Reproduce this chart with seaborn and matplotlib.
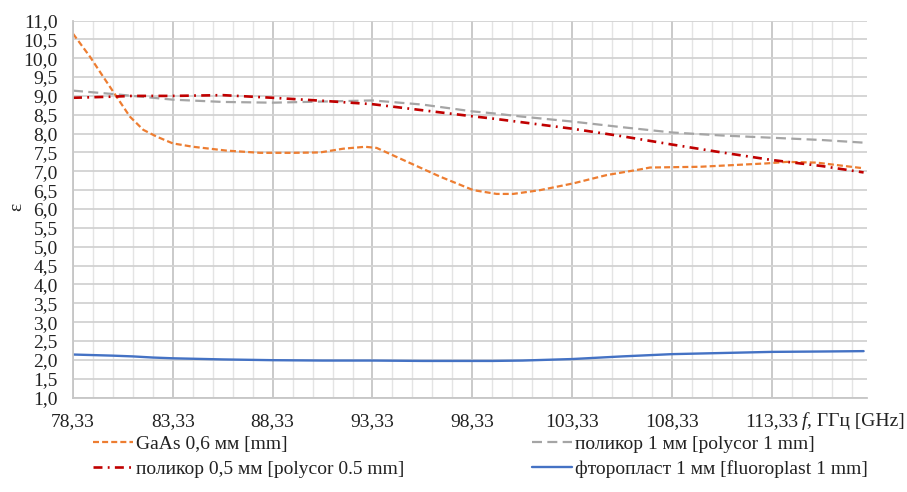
import numpy as np
import pandas as pd
import matplotlib
matplotlib.use("Agg")
import matplotlib.pyplot as plt
import seaborn as sns
from matplotlib.ticker import FixedLocator

# ---- data ----
gaas_freq = [78.33, 79.18, 79.84, 80.51, 81.18, 81.85, 82.52, 83.33, 84.35, 86.00,
             87.70, 89.36, 90.70, 91.87, 92.96, 93.54, 95.04, 96.71, 98.38, 99.55,
             100.38, 101.72, 103.39, 105.06, 106.73, 107.23, 109.73, 113.08, 114.08,
             115.58, 117.93]
gaas = [10.65, 10.04, 9.51, 8.98, 8.45, 8.10, 7.92, 7.74, 7.65, 7.55,
        7.49, 7.49, 7.50, 7.60, 7.65, 7.62, 7.26, 6.86, 6.50, 6.40,
        6.40, 6.50, 6.68, 6.90, 7.05, 7.10, 7.12, 7.21, 7.25,
        7.23, 7.08]

freq = [78.33, 80.33, 81.33, 82.33, 83.33, 85.83, 88.33, 90.83, 93.33, 95.83,
        98.33, 99.33, 100.83, 103.33, 105.83, 108.33, 110.83, 113.33, 115.83, 117.93]
polycor1 = [9.14, 9.05, 9.00, 8.95, 8.90, 8.84, 8.82, 8.85, 8.88, 8.77,
            8.59, 8.54, 8.45, 8.32, 8.17, 8.03, 7.95, 7.89, 7.83, 7.76]
polycor05 = [8.95, 8.98, 9.00, 9.00, 9.00, 9.02, 8.95, 8.87, 8.78, 8.62,
             8.46, 8.40, 8.30, 8.13, 7.93, 7.71, 7.50, 7.30, 7.14, 6.97]
fluoro = [2.14, 2.11, 2.09, 2.06, 2.04, 2.01, 1.99, 1.98, 1.98, 1.97,
          1.97, 1.97, 1.98, 2.02, 2.09, 2.15, 2.18, 2.21, 2.22, 2.23]

labels = ["GaAs 0,6 мм [mm]", "поликор 1 мм [polycor 1 mm]",
          "поликор 0,5 мм [polycor 0.5 mm]", "фторопласт 1 мм [fluoroplast 1 mm]"]
xtick_vals = [78.33, 83.33, 88.33, 93.33, 98.33, 103.33, 108.33, 113.33]
xtick_labels = ["78,33", "83,33", "88,33", "93,33", "98,33", "103,33", "108,33", "113,33"]
ytick_vals = [1.0, 1.5, 2.0, 2.5, 3.0, 3.5, 4.0, 4.5, 5.0, 5.5, 6.0,
              6.5, 7.0, 7.5, 8.0, 8.5, 9.0, 9.5, 10.0, 10.5, 11.0]
ytick_labels = ["1,0", "1,5", "2,0", "2,5", "3,0", "3,5", "4,0", "4,5", "5,0", "5,5", "6,0",
                "6,5", "7,0", "7,5", "8,0", "8,5", "9,0", "9,5", "10,0", "10,5", "11,0"]

sns.set_style("white")
plt.rcParams["font.family"] = ["Liberation Serif", "DejaVu Serif"]

W, H = 907, 492
fig = plt.figure(figsize=(W / 100, H / 100), dpi=100)
ax = fig.add_axes([73 / W, 1 - 397.5 / H, (867 - 73) / W, (397.5 - 20.5) / H])

dfg = pd.DataFrame({"f": gaas_freq, "v": gaas})
df = pd.DataFrame({"f": freq, "p1": polycor1, "p05": polycor05, "fl": fluoro})

sns.lineplot(data=dfg, x="f", y="v", ax=ax, color="#ED7D31", lw=1.6,
             linestyle=(0, (2.7, 1.4)), label=labels[0], legend=False)
sns.lineplot(data=df, x="f", y="p1", ax=ax, color="#A5A5A5", lw=1.6,
             linestyle=(0, (4.5, 2.4)), label=labels[1], legend=False)
sns.lineplot(data=df, x="f", y="p05", ax=ax, color="#C00000", lw=1.9,
             linestyle=(0, (3.4, 2.0, 0.7, 2.0)), label=labels[2], legend=False)
sns.lineplot(data=df, x="f", y="fl", ax=ax, color="#4472C4", lw=1.7,
             linestyle="-", label=labels[3], legend=False)

ax.set_xlim(78.33, 118.1)
ax.set_ylim(1.0, 11.0)

# grid
ax.xaxis.set_major_locator(FixedLocator(xtick_vals))
ax.xaxis.set_minor_locator(FixedLocator(np.arange(79.33, 118.0, 1.0)))
ax.yaxis.set_major_locator(FixedLocator(ytick_vals))
ax.set_xticklabels(xtick_labels)
ax.set_yticklabels(ytick_labels)
ax.grid(which="major", axis="x", color="#c6c6c6", lw=1.3)
ax.grid(which="minor", axis="x", color="#e4e4e4", lw=1.0)
ax.grid(which="major", axis="y", color="#d2d2d2", lw=1.3)
ax.set_axisbelow(True)
for s in ["top", "right"]:
    ax.spines[s].set_visible(False)
for s in ["left", "bottom"]:
    ax.spines[s].set_color("#c6c6c6")
    ax.spines[s].set_linewidth(1.3)
ax.tick_params(axis="both", which="both", length=0, labelsize=14, colors="#222222")
ax.tick_params(axis="y", pad=11)
ax.tick_params(axis="x", pad=11)
ax.set_xlabel("")
ax.set_ylabel("")

fig.text(17 / W, 1 - 207 / H, "ε", rotation=90, ha="center", va="center",
         fontsize=14, color="#222222")

t = fig.text(802 / W, 1 - 421 / H, "f", fontsize=14, style="italic",
             ha="left", va="center", color="#222222")
ax.annotate(", ГГц [GHz]", xy=(1, 0), xycoords=t, va="bottom", ha="left",
            fontsize=14, color="#222222", annotation_clip=False)

hs = {ln.get_label(): ln for ln in ax.get_lines()}
leg1 = fig.legend([hs[labels[0]], hs[labels[2]]], [labels[0], labels[2]],
                  loc="center left", bbox_to_anchor=(93 / W, 1 - 456.5 / H),
                  frameon=False, fontsize=14, handlelength=2.05, handletextpad=0.15,
                  labelspacing=0.38, borderpad=0, borderaxespad=0)
leg2 = fig.legend([hs[labels[1]], hs[labels[3]]], [labels[1], labels[3]],
                  loc="center left", bbox_to_anchor=(532 / W, 1 - 456.5 / H),
                  frameon=False, fontsize=14, handlelength=2.05, handletextpad=0.15,
                  labelspacing=0.38, borderpad=0, borderaxespad=0)
for lg in (leg1, leg2):
    for tx in lg.get_texts():
        tx.set_color("#222222")

fig.savefig("out.png", dpi=100, facecolor="white")
